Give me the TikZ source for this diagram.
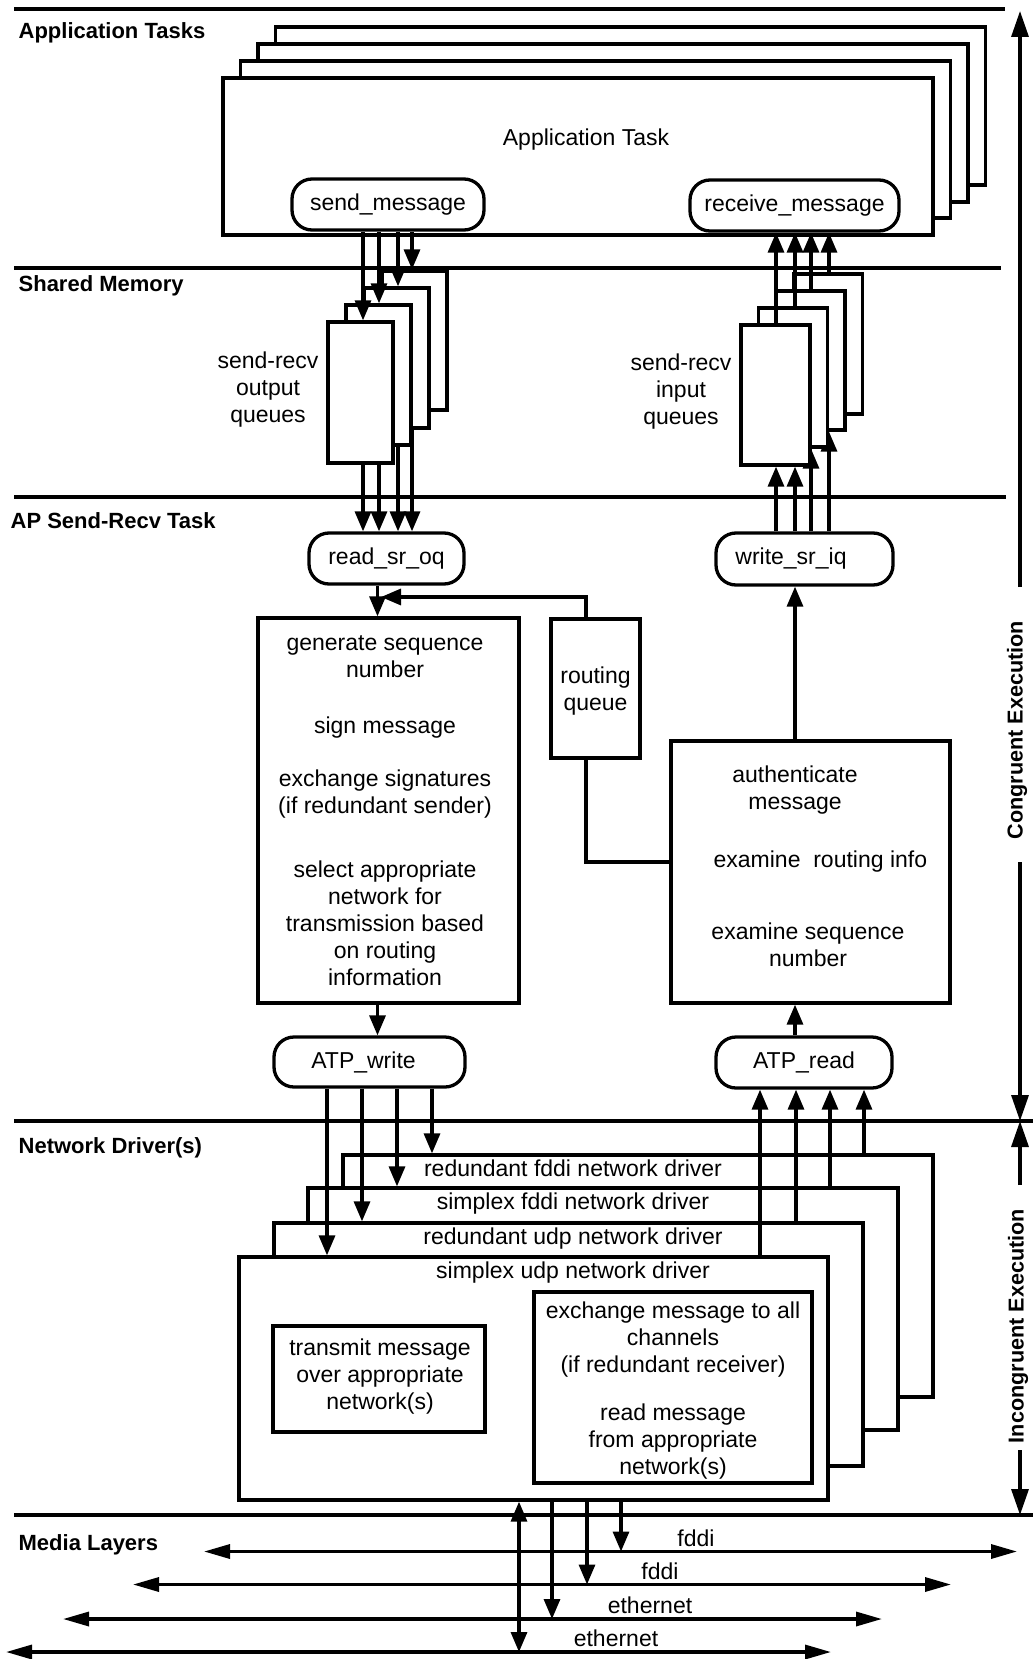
\documentclass[tikz,border=0pt]{standalone}
\usepackage{fontspec}
\setmainfont{Liberation Sans}
\usetikzlibrary{arrows.meta,fit,backgrounds}
\begin{document}
\begin{tikzpicture}[x=0.5pt,y=-0.5pt,line width=1.65pt,
  font=\fontsize{11.5}{13.5}\selectfont,
  box/.style={draw,fill=white,inner sep=0pt},
  pill/.style={draw,fill=white,rounded corners=10pt,inner sep=0pt},
  txt/.style={align=center,inner sep=0pt},
  head/.style={font=\fontsize{11}{13}\selectfont\bfseries,anchor=base west,inner sep=0pt},
  side/.style={font=\fontsize{10.8}{13}\selectfont\bfseries,rotate=90,inner sep=0pt},
  arr/.style={-{Triangle[length=10pt,width=8pt]}},
  bigarr/.style={-{Triangle[length=13pt,width=8.5pt]}},
  medarr/.style={{Triangle[length=13pt,width=7pt]}-{Triangle[length=13pt,width=7pt]}},
  dblarr/.style={{Triangle[length=10pt,width=8pt]}-{Triangle[length=10pt,width=8pt]}}
]
\useasboundingbox (0,0) rectangle (1033,1659);

% layer separators
\draw (14,9) -- (1005,9);
\draw (14,268) -- (1001,268);
\draw (14,497) -- (1006,497);
\draw (14,1121) -- (1033,1121);
\draw (14,1515) -- (1033,1515);

% layer headings
\node[head] (hApp) at (17,39) {Application Tasks};
\node[head] (hShm) at (17,291) {Shared Memory};
\node[head] (hAP)  at (9,528) {AP Send-Recv Task};
\node[head] (hNet) at (17,1153) {Network Driver(s)};
\node[head] (hMed) at (17,1550) {Media Layers};

% application task stack
\node[box,fit={(275.5,27) (985.5,185)}] (app3) {};
\node[box,fit={(258,44) (968,202)}] (app2) {};
\node[box,fit={(240.5,61) (950.5,218)}] (app1) {};
\node[box,fit={(223,78) (933,235)}] (app0) {};
\node[txt,anchor=base] (appT) at (586,146) {Application Task};
\node[pill,minimum width=96pt,minimum height=25.5pt] (send) at (388,204.5) {send\_message};
\node[pill,minimum width=104.5pt,minimum height=25.5pt] (recv) at (794.5,205.5) {receive\_message};

% AP send-recv pills
\node[pill,minimum width=77.5pt,minimum height=25.5pt] (read) at (386.5,558.5) {read\_sr\_oq};
\node[pill,minimum width=88.5pt,minimum height=26pt] (write) at (804.5,559) {write\_sr\_iq\hspace*{13.5pt}};

% output queues
\node[box,fit={(382,271) (447,410)}] (oq3) {};
\node[box,fit={(364,288) (429,428)}] (oq2) {};
\node[box,fit={(346,305) (411,445)}] (oq1) {};
\node[box,fit={(328,322) (393,463)}] (oq0) {};
\node[txt] (oqT) at (268,390) {send-recv\\output\\queues};

% input queues
\node[box,fit={(793.5,274) (862.5,414)}] (iq3) {};
\node[box,fit={(776,291) (845,430)}] (iq2) {};
\node[box,fit={(758.5,308) (827.5,447)}] (iq1) {};
\node[box,fit={(741,325) (810,465)}] (iq0) {};
\node[txt] (iqT) at (681,392) {send-recv\\input\\queues};

% columns
\coordinate (o1) at (363,0); \coordinate (o2) at (379,0);
\coordinate (o3) at (398,0); \coordinate (o4) at (412,0);
\coordinate (i1) at (776,0); \coordinate (i2) at (795,0);
\coordinate (i3) at (811,0); \coordinate (i4) at (829,0);

\draw[arr] (o1 |- send.south) -- (o1 |- oq0.north);
\draw[arr] (o2 |- send.south) -- (o2 |- oq1.north);
\draw[arr] (o3 |- send.south) -- (o3 |- oq2.north);
\draw[arr] (o4 |- send.south) -- (o4 |- oq3.north);
\draw[arr] (o1 |- oq0.south) -- (o1 |- read.north);
\draw[arr] (o2 |- oq0.south) -- (o2 |- read.north);
\draw[arr] (o3 |- oq1.south) -- (o3 |- read.north);
\draw[arr] (o4 |- oq2.south) -- (o4 |- read.north);

\draw[arr] (i1 |- iq0.north) -- (i1 |- recv.south);
\draw[arr] (i2 |- iq1.north) -- (i2 |- recv.south);
\draw[arr] (i3 |- iq2.north) -- (i3 |- recv.south);
\draw[arr] (i4 |- iq3.north) -- (i4 |- recv.south);
\draw[arr] (i1 |- write.north) -- (i1 |- iq0.south);
\draw[arr] (i2 |- write.north) -- (i2 |- iq0.south);
\begin{scope}[on background layer,line width=1.65pt]
\draw[arr,line width=1.65pt] (i3 |- write.north) -- (i3 |- iq1.south);
\draw[arr,line width=1.65pt] (i4 |- write.north) -- (i4 |- iq2.south);
\end{scope}

% send-recv task boxes
\node[box,fit={(258,618) (519,1003)}] (lbox) {};
\node[txt] (lb1) at (385,656.5) {generate sequence\\number};
\node[txt] (lb2) at (385,728) {sign message};
\node[txt] (lb3) at (385,794.5) {exchange signatures\\(if redundant sender)};
\node[txt] (lb4) at (385,923) {select appropriate\\network for\\transmission based\\on routing\\information};

\node[box,fit={(551,619) (640,758)}] (rq) {};
\node[txt] (rqT) at (595.5,691.5) {routing\\queue};

\node[box,fit={(671,741) (950,1003)}] (rbox) {};
\node[txt] (rb1) at (795,790) {authenticate\\message};
\node[txt,anchor=west] (rb2) at (712,862) {examine\ \ routing info};
\node[txt] (rb3) at (808,945) {examine sequence\\number};

\node[pill,minimum width=95.5pt,minimum height=25pt] (atpw) at (369.5,1062) {ATP\_write\hspace*{6pt}};
\node[pill,minimum width=88pt,minimum height=25.5pt] (atpr) at (804,1062.5) {ATP\_read};

\coordinate (cL) at (377.5,0); \coordinate (cR) at (795,0); \coordinate (cQ) at (586,0);
\coordinate (rtip) at (381,597); \coordinate (yj) at (0,862);
\draw[arr] (cL |- read.south) -- (cL |- lbox.north);
\draw[arr] (cQ |- rq.north) |- (rtip);
\draw (cQ |- rq.south) |- (rbox.west |- yj);
\draw[arr] (cR |- rbox.north) -- (cR |- write.south);
\draw[arr] (cL |- lbox.south) -- (cL |- atpw.north);
\draw[arr] (cR |- atpr.north) -- (cR |- rbox.south);

% network drivers
\node[box,fit={(343,1155) (933,1397)}] (nd3) {};
\node[box,fit={(308,1188) (898,1430)}] (nd2) {};
\node[box,fit={(274,1223) (863,1466)}] (nd1) {};
\node[box,fit={(239,1257) (828,1500)}] (nd0) {};
\node[anchor=base,inner sep=0pt] (nd3T) at (573,1176) {redundant fddi network driver};
\node[anchor=base,inner sep=0pt] (nd2T) at (573,1209) {simplex fddi network driver};
\node[anchor=base,inner sep=0pt] (nd1T) at (573,1244) {redundant udp network driver};
\node[anchor=base,inner sep=0pt] (nd0T) at (573,1278) {simplex udp network driver};

\node[box,fit={(273,1326) (485,1432)}] (tbox) {};
\node[txt] (tT) at (380,1377) {transmit message\\over appropriate\\network(s)};
\node[box,fit={(534,1292) (812,1483)}] (xbox) {};
\node[txt] (xT1) at (673,1340) {exchange message to all\\channels\\(if redundant receiver)};
\node[txt] (xT2) at (673,1441.5) {read message\\from appropriate\\network(s)};

\coordinate (w1) at (327,0); \coordinate (w2) at (362,0);
\coordinate (w3) at (397,0); \coordinate (w4) at (432,0);
\coordinate (r1) at (760,0); \coordinate (r2) at (796,0);
\coordinate (r3) at (830,0); \coordinate (r4) at (864,0);
\draw[arr] (w1 |- atpw.south) -- (w1 |- nd0.north);
\draw[arr] (w2 |- atpw.south) -- (w2 |- nd1.north);
\draw[arr] (w3 |- atpw.south) -- (w3 |- nd2.north);
\draw[arr] (w4 |- atpw.south) -- (w4 |- nd3.north);
\draw[arr] (r1 |- nd0.north) -- (r1 |- atpr.south);
\draw[arr] (r2 |- nd1.north) -- (r2 |- atpr.south);
\draw[arr] (r3 |- nd2.north) -- (r3 |- atpr.south);
\draw[arr] (r4 |- nd3.north) -- (r4 |- atpr.south);

% media layers
\coordinate (f1a) at (204,1551.5); \coordinate (f1b) at (1017,1551.5);
\coordinate (f2a) at (133,1584.5); \coordinate (f2b) at (951,1584.5);
\coordinate (e1a) at (63,1619);    \coordinate (e1b) at (882,1619);
\coordinate (e2a) at (6,1652);     \coordinate (e2b) at (831,1652);
\draw[medarr] (f1a) -- (f1b);
\draw[medarr] (f2a) -- (f2b);
\draw[medarr] (e1a) -- (e1b);
\draw[medarr] (e2a) -- (e2b);
\node[anchor=base,inner sep=0pt] (f1T) at (696,1546) {fddi};
\node[anchor=base,inner sep=0pt] (f2T) at (660,1579) {fddi};
\node[anchor=base,inner sep=0pt] (e1T) at (650,1613.5) {ethernet};
\node[anchor=base,inner sep=0pt] (e2T) at (616,1646.5) {ethernet};

\coordinate (m1) at (519,0); \coordinate (m2) at (552,0);
\coordinate (m3) at (587,0); \coordinate (m4) at (621,0);
\draw[dblarr] (m1 |- nd0.south) -- (m1 |- e2a);
\draw[arr] (m2 |- nd0.south) -- (m2 |- e1a);
\draw[arr] (m3 |- nd0.south) -- (m3 |- f2a);
\draw[arr] (m4 |- nd0.south) -- (m4 |- f1a);

% execution ranges
\coordinate (cTop) at (1020,11);  \coordinate (cA) at (1020,587);
\coordinate (cB) at (1020,862);   \coordinate (cN) at (1020,1121);
\coordinate (iA) at (1020,1185);  \coordinate (iB) at (1020,1450);
\coordinate (cM) at (1020,1515);
\draw[bigarr] (cA) -- (cTop);
\draw[bigarr] (cB) -- (cN);
\draw[bigarr] (iA) -- (cN);
\draw[bigarr] (iB) -- (cM);
\node[side] (cgT) at (1017,730) {Congruent Execution};
\node[side] (icT) at (1018,1326) {Incongruent Execution};
\end{tikzpicture}
\end{document}
